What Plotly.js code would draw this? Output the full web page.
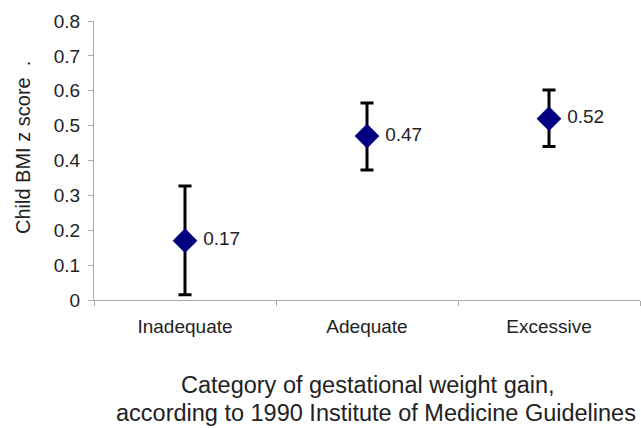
<!DOCTYPE html>
<html><head><meta charset="utf-8">
<script src="https://cdn.plot.ly/plotly-3.0.1.min.js"></script>
<style>body{margin:0;background:#fff}#chart{width:641px;height:428px}</style>
</head><body><div id="chart"></div>
<script>
const categories = ["Inadequate", "Adequate", "Excessive"];
const zScores = [0.17, 0.47, 0.52];
const upperCI = [0.327, 0.565, 0.602];
const lowerCI = [0.015, 0.373, 0.44];
const labels = ["0.17", "0.47", "0.52"];
const yTicks = [0, 0.1, 0.2, 0.3, 0.4, 0.5, 0.6, 0.7, 0.8];
const yTickText = ["0", "0.1", "0.2", "0.3", "0.4", "0.5", "0.6", "0.7", "0.8"];
const yTitle = "Child BMI z score  .";
const xTitleLines = ["Category of gestational weight gain,", "according to 1990 Institute of Medicine Guidelines"];

const errPlus = zScores.map((v, i) => upperCI[i] - v);
const errMinus = zScores.map((v, i) => v - lowerCI[i]);

const font = "Arial, Liberation Sans, sans-serif";
const trace = {
  type: "scatter", mode: "markers+text",
  x: categories, y: zScores,
  text: labels, textposition: "middle right",
  texttemplate: "\u00a0%{text}",
  textfont: {family: font, size: 19, color: "#222"},
  marker: {symbol: "diamond", size: 19, color: "#000080"},
  error_y: {type: "data", symmetric: false, array: errPlus, arrayminus: errMinus,
            color: "#000", thickness: 3, width: 6.5},
  cliponaxis: false,
  hoverinfo: "none"
};

const titleFont = {family: font, size: 23.5, color: "#222"};
const layout = {
  width: 641, height: 428,
  margin: {l: 94, r: 1, t: 21, b: 128},
  paper_bgcolor: "#fff", plot_bgcolor: "#fff",
  showlegend: false,
  font: {family: font, color: "#222"},
  xaxis: {
    type: "category", range: [-0.5, 2.5],
    tickson: "boundaries", ticks: "outside", ticklen: 5, tickcolor: "#aaa",
    showline: true, linecolor: "#aaa", linewidth: 1,
    showgrid: false, zeroline: false,
    tickfont: {family: font, size: 19, color: "#222"},
    ticklabelstandoff: 9
  },
  yaxis: {
    range: [0, 0.8], tickvals: yTicks, ticktext: yTickText,
    ticks: "outside", ticklen: 5, tickcolor: "#aaa",
    showline: true, linecolor: "#aaa", linewidth: 1,
    showgrid: false, zeroline: false,
    tickfont: {family: font, size: 19, color: "#222"},
    ticklabelstandoff: 4
  },
  annotations: [
    {text: xTitleLines[0], xref: "paper", yref: "paper", x: 0.5018, y: -0.3047,
     xanchor: "center", yanchor: "middle", showarrow: false, font: titleFont},
    {text: xTitleLines[1], xref: "paper", yref: "paper", x: 0.5165, y: -0.405,
     xanchor: "center", yanchor: "middle", showarrow: false, font: titleFont},
    {text: yTitle, xref: "paper", yref: "paper", x: -0.130, y: 0.5448, textangle: -90,
     xanchor: "center", yanchor: "middle", showarrow: false,
     font: {family: font, size: 20, color: "#222"}}
  ]
};

Plotly.newPlot("chart", [trace], layout, {staticPlot: true, displayModeBar: false});
</script></body></html>
